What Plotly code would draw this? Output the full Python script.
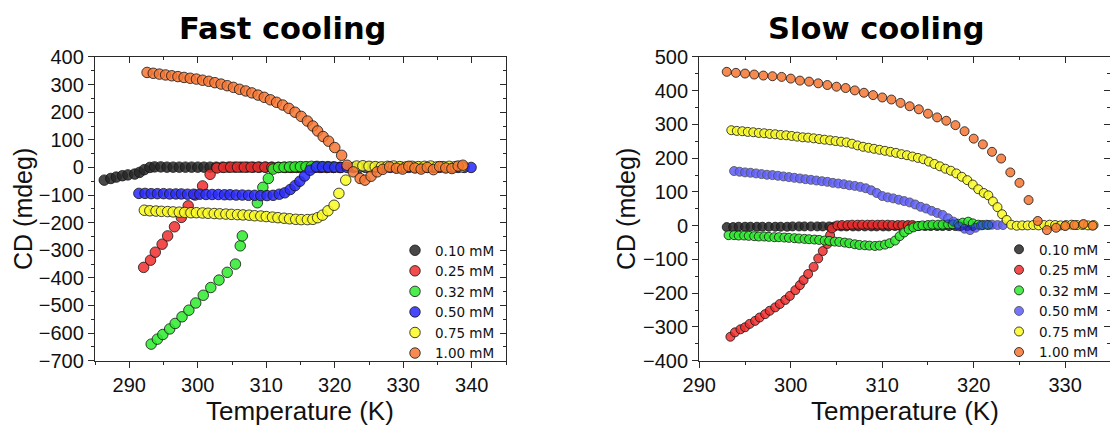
import plotly.graph_objects as go

W, H = 1110, 425

LABELS = ["0.10 mM", "0.25 mM", "0.32 mM", "0.50 mM", "0.75 mM", "1.00 mM"]
COLORS = ["rgba(40,40,40,0.85)", "rgba(240,45,45,0.85)", "rgba(45,235,45,0.85)",
          "rgba(45,45,250,0.88)", "rgba(250,250,35,0.85)", "rgba(246,118,50,0.85)"]

# ---------------- Fast cooling ----------------
fast_T_010 = [286.35, 287.3, 288.1, 289.0, 289.8, 290.8, 291.5, 292.2, 293.0, 293.7, 294.6, 295.5, 296.4,
              297.3, 298.2, 299.1, 300.0, 300.9, 301.8, 302.7, 303.6, 304.5, 305.4, 306.3, 307.2, 308.1,
              309.0, 309.9, 310.8, 311.7, 312.6, 313.5, 314.4, 315.3, 316.2, 317.1, 318.0, 318.9, 319.8, 320.7]
fast_CD_010 = [-46, -40, -35, -30, -27, -24, -18, -8, 0, 2, 2, 1, 1, 1, 1, 1, 1, 1, 1, 1, 1, 1, 1, 1, 1, 1,
               1, 1, 1, 0, 0, 0, 0, 0, 0, 0, 0, 0, 0, 0]

fast_T_025 = [292.1, 293.1, 293.8, 294.8, 295.6, 296.6, 297.6, 298.6, 299.6, 300.7, 301.8, 302.8, 303.8,
              304.8, 305.8, 306.8, 307.8, 308.8, 309.8, 310.8, 311.8, 312.8, 313.8, 314.8, 315.8, 316.8,
              317.8, 318.8, 319.8, 320.8]
fast_CD_025 = [-362, -336, -307, -278, -248, -215, -181, -139, -100, -67, -25, -2, 0, 1, 1, 1, 1, 1, 1, 0,
               0, 0, 0, 0, 0, 0, 0, 0, 0, 0]

fast_T_032 = [293.2, 294.1, 294.9, 295.9, 296.7, 297.7, 298.7, 299.7, 300.8, 301.9, 303.1, 304.3, 305.5,
              306.2, 306.5, 308.7, 309.5, 310.3, 311.0, 311.8, 312.6, 313.4, 314.2, 315.0, 315.8, 316.6,
              317.4, 318.2, 319.0, 319.8]
fast_CD_032 = [-640, -622, -605, -585, -565, -541, -517, -491, -463, -435, -408, -380, -350, -284, -248,
               -128, -72, -40, -6, 0, 1, 2, 2, 3, 3, 4, 4, 3, 3, 2]

fast_T_050 = [291.4, 292.3, 293.2, 294.1, 295.0, 295.9, 296.8, 297.6, 298.5, 299.4, 300.3, 301.2, 302.1,
              303.0, 303.9, 304.7, 305.6, 306.5, 307.4, 308.3, 309.2, 310.1, 311.0, 311.9, 312.7, 313.5,
              314.2, 314.9, 315.6, 316.4, 317.3, 318.2, 319.1, 320.0, 320.9, 321.8, 322.7, 323.6, 324.5,
              325.4, 326.3, 327.2, 328.1, 329.0, 329.9, 330.8, 331.7, 332.6, 333.5, 334.4, 335.3, 336.2,
              337.1, 338.0, 338.9, 339.9]
fast_CD_050 = [-94, -94, -95, -95, -95, -96, -96, -96, -97, -97, -97, -98, -98, -98, -99, -99, -100, -100,
               -101, -101, -102, -102, -101, -97, -92, -80, -66, -50, -31, -10, 2, 2, 1, 1, 0, 0, 0, 0, 0,
               0, 0, 0, 0, 0, 0, 0, 0, 0, 0, 0, 0, 0, 0, 0, 0, 0]

fast_T_075 = [292.2, 293.0, 293.9, 294.7, 295.6, 296.4, 297.3, 298.1, 299.0, 299.8, 300.7, 301.5, 302.4,
              303.2, 304.1, 304.9, 305.8, 306.6, 307.5, 308.3, 309.2, 310.0, 310.9, 311.7, 312.6, 313.4,
              314.3, 315.1, 316.0, 316.8, 317.5, 318.2, 319.0, 319.9, 320.6, 321.6, 323.2, 324.1, 325.0,
              325.9, 326.8, 327.7, 328.6, 329.5, 330.4, 331.3, 332.2, 333.1, 334.0, 334.9, 335.8, 336.7,
              337.6, 338.6]
fast_CD_075 = [-155, -157, -158, -159, -160, -161, -162, -163, -164, -164, -165, -166, -167, -168, -169,
               -170, -171, -172, -173, -175, -176, -178, -180, -182, -184, -186, -188, -189, -189, -188,
               -182, -173, -157, -137, -94, -46, 5, 6, 4, 3, 2, 4, 5, 3, 2, 4, 3, 4, 5, 2, 3, 4, 3, 2]

fast_T_100 = [292.6, 293.5, 294.4, 295.3, 296.2, 297.1, 298.0, 298.9, 299.8, 300.7, 301.6, 302.5, 303.4,
              304.3, 305.2, 306.1, 307.0, 307.9, 308.8, 309.7, 310.6, 311.5, 312.4, 313.3, 314.2, 315.1,
              316.0, 316.8, 317.5, 318.3, 319.1, 320.0, 321.0, 321.8, 322.7, 323.7, 324.4, 325.3, 326.2,
              327.0, 328.0, 329.0, 329.9, 330.8, 331.7, 332.6, 333.5, 334.4, 335.3, 336.2, 337.1, 338.0,
              338.7]
fast_CD_100 = [344, 341, 338, 335, 332, 329, 326, 323, 320, 316, 312, 307, 302, 296, 290, 283, 277, 270,
               262, 254, 245, 236, 226, 214, 200, 185, 168, 150, 132, 112, 95, 72, 44, 8, -16, -40, -46,
               -32, -16, -7, 2, -3, -6, 4, -2, -6, 0, -8, 3, -2, -4, 5, 8]

# ---------------- Slow cooling ----------------
slow_T_010 = [293.0, 293.7, 294.3, 295.0, 295.6, 296.3, 296.9, 297.6, 298.3, 298.9, 299.6, 300.2, 300.9,
              301.5, 302.2, 302.9, 303.5, 304.2, 304.8, 305.5, 306.1, 306.8, 307.4, 308.1, 308.8, 309.4,
              310.1, 310.7, 311.4, 312.0, 312.7, 313.4, 314.0, 314.7, 315.3, 316.0, 316.6, 317.3, 318.0,
              318.6, 319.3, 319.9]
slow_CD_010 = [-4, -4, -3, -3, -3, -3, -3, -3, -3, -3, -3, -2, -2, -2, -2, -2, -2, -2, -2, -2, -2, -2, -2,
               -2, -2, -2, -2, -2, -1, -1, -1, -1, -1, -1, -1, -1, -1, -1, -1, -1, -1, -1]

slow_T_025 = [293.4, 293.9, 294.5, 295.0, 295.5, 296.1, 296.6, 297.2, 297.7, 298.3, 298.8, 299.4, 299.9,
              300.5, 301.0, 301.4, 301.9, 302.5, 303.0, 303.5, 304.0, 304.3, 304.5, 305.1, 305.6, 306.2,
              306.7, 307.3, 307.8, 308.4, 308.9, 309.5, 310.0, 310.6, 311.1, 311.7, 312.2, 312.8, 313.3]
slow_CD_025 = [-329, -316, -307, -301, -291, -282, -272, -262, -252, -242, -232, -220, -208, -191, -176,
               -161, -143, -122, -97, -75, -54, -28, -8, 1, 2, 2, 3, 3, 3, 3, 3, 3, 3, 3, 2, 2, 2, 2, 2]

slow_T_032 = [293.2, 293.8, 294.3, 294.9, 295.4, 296.0, 296.5, 297.1, 297.6, 298.2, 298.7, 299.3, 299.8,
              300.4, 300.9, 301.5, 302.0, 302.6, 303.1, 303.7, 304.2, 304.8, 305.3, 305.9, 306.4, 307.0,
              307.5, 308.1, 308.6, 309.2, 309.7, 310.3, 310.8, 311.4, 311.9, 312.4, 312.9, 313.4, 313.9,
              314.4, 315.0, 315.5, 316.1, 316.6, 317.2, 317.7, 318.3, 318.8, 319.4, 319.9, 320.5, 321.0,
              321.6]
slow_CD_032 = [-28, -28, -29, -29, -30, -31, -32, -32, -33, -34, -34, -35, -36, -37, -38, -39, -40, -41,
               -42, -44, -45, -47, -48, -50, -52, -55, -57, -58, -59, -60, -59, -56, -52, -44, -31, -20,
               -11, -5, -1, 1, 2, 3, 3, 3, 4, 4, 6, 9, 12, 7, 3, 2, 2]

slow_T_050 = [293.8, 294.4, 295.0, 295.6, 296.2, 296.8, 297.4, 298.0, 298.6, 299.2, 299.8, 300.4, 301.0,
              301.6, 302.2, 302.8, 303.4, 304.0, 304.6, 305.2, 305.8, 306.4, 307.0, 307.6, 308.2, 308.8,
              309.4, 310.0, 310.6, 311.2, 311.8, 312.4, 313.0, 313.6, 314.2, 314.8, 315.4, 316.0, 316.6,
              317.2, 317.8, 318.4, 319.0, 319.6, 320.2, 320.8, 321.4, 322.0, 322.6, 323.2]
slow_CD_050 = [162, 160, 158, 157, 155, 153, 151, 150, 148, 146, 144, 142, 140, 138, 136, 134, 132, 130,
               127, 125, 123, 120, 118, 115, 111, 105, 97, 88, 84, 81, 77, 73, 69, 63, 56, 51, 44, 38, 32,
               22, 12, -2, -9, -13, -6, 1, 3, 3, 2, 2]

slow_T_075 = [293.5, 294.1, 294.7, 295.3, 295.9, 296.5, 297.1, 297.7, 298.3, 298.9, 299.5, 300.1, 300.7,
              301.3, 301.9, 302.5, 303.1, 303.7, 304.3, 304.9, 305.5, 306.1, 306.7, 307.3, 307.9, 308.5,
              309.1, 309.7, 310.3, 310.9, 311.5, 312.1, 312.7, 313.3, 313.9, 314.5, 315.1, 315.7, 316.3,
              316.9, 317.5, 318.1, 318.7, 319.3, 319.9, 320.5, 321.1, 321.6, 322.1, 322.6, 323.1, 323.6,
              324.1, 324.7, 325.3, 325.9, 326.5, 327.1, 327.7, 328.3, 328.9, 329.5, 330.1, 330.7, 331.3,
              331.9, 332.5, 333.1]
slow_CD_075 = [283, 281, 280, 278, 277, 275, 274, 272, 271, 269, 268, 266, 264, 262, 261, 259, 257, 255,
               253, 251, 249, 247, 243, 238, 234, 231, 228, 225, 222, 219, 216, 212, 209, 205, 201, 197,
               190, 183, 176, 169, 163, 155, 145, 135, 122, 108, 97, 90, 72, 55, 34, 17, 3, 0, 1, 1, 2, 1,
               2, 3, 2, 1, 2, 3, 2, 2, 1, 2]

slow_T_100 = [293, 294, 295, 296, 297, 298, 299, 300, 301, 302, 303, 304, 305, 306, 307, 308, 309, 310,
              311, 312, 313, 314, 315, 316, 317, 318, 319, 320, 321, 322, 323, 324, 325, 326, 327, 328,
              329, 330, 331, 332, 333]
slow_CD_100 = [456, 453, 451, 448, 445, 443, 441, 436, 430, 427, 422, 417, 412, 408, 401, 394, 387, 380,
               374, 364, 354, 345, 332, 321, 311, 298, 280, 258, 241, 219, 199, 158, 127, 76, 14, -13, -6,
               -1, 2, 5, 0]

fast_T = [fast_T_010, fast_T_025, fast_T_032, fast_T_050, fast_T_075, fast_T_100]
fast_CD = [fast_CD_010, fast_CD_025, fast_CD_032, fast_CD_050, fast_CD_075, fast_CD_100]
slow_T = [slow_T_010, slow_T_025, slow_T_032, slow_T_050, slow_T_075, slow_T_100]
slow_CD = [slow_CD_010, slow_CD_025, slow_CD_032, slow_CD_050, slow_CD_075, slow_CD_100]
for a, b in list(zip(fast_T, fast_CD)) + list(zip(slow_T, slow_CD)):
    assert len(a) == len(b), (len(a), len(b))

FONT = "Liberation Sans, Arial, sans-serif"
LFONT = "DejaVu Sans, sans-serif"
LINE = "#2a2a2a"

fig = go.Figure()
for i in range(6):
    fig.add_trace(go.Scatter(
        x=fast_T[i], y=fast_CD[i], mode="markers", name=LABELS[i],
        xaxis="x", yaxis="y", legend="legend",
        marker=dict(size=10.5, color=COLORS[i], line=dict(color="rgba(20,20,20,0.8)", width=1))))
for i in range(6):
    op = 0.75 if i == 3 else 1.0
    fig.add_trace(go.Scatter(
        x=slow_T[i], y=slow_CD[i], mode="markers", name=LABELS[i],
        xaxis="x2", yaxis="y2", legend="legend2", opacity=op,
        marker=dict(size=9, color=COLORS[i], line=dict(color="rgba(20,20,20,0.8)", width=1))))

# empty helper traces so that the mirrored (inward-tick) axes are drawn
for xa, ya in [("x3", "y"), ("x", "y3"), ("x4", "y2"), ("x2", "y4")]:
    fig.add_trace(go.Scatter(x=[None], y=[None], xaxis=xa, yaxis=ya, showlegend=False,
                             hoverinfo="skip", mode="markers"))

YDOM = [0.1513, 0.8659]
XDOM1 = [0.0856, 0.4559]
XDOM2 = [0.6300, 1.0]
XR1 = [285, 345]
XR2 = [290, 334.9]
YR1 = [-700, 400]
YR2 = [-400, 500]


def main_axis(rng, dtick, minor_dt, dom=None, anchor=None):
    d = dict(range=rng, dtick=dtick, tick0=0, ticks="outside", ticklen=6, tickwidth=1.3,
             tickcolor=LINE, showline=True, linecolor=LINE, linewidth=1.4, showgrid=False,
             zeroline=False, tickfont=dict(family=FONT, size=20, color="#111"),
             automargin=False,
             minor=dict(dtick=minor_dt, ticks="outside", ticklen=3, tickwidth=1.1, tickcolor=LINE,
                        showgrid=False),
             fixedrange=True)
    if dom is not None:
        d["domain"] = dom
    if anchor is not None:
        d["anchor"] = anchor
    return d


def mirror_axis(rng, dtick, minor_dt, over, side, anchor):
    return dict(range=rng, dtick=dtick, tick0=0, ticks="inside", ticklen=6, tickwidth=1.3,
                tickcolor=LINE, showline=True, linecolor=LINE, linewidth=1.4, showgrid=False,
                zeroline=False, showticklabels=False, overlaying=over, side=side, anchor=anchor,
                automargin=False,
                minor=dict(dtick=minor_dt, ticks="inside", ticklen=3, tickwidth=1.1, tickcolor=LINE,
                           showgrid=False),
                fixedrange=True)


fig.update_layout(
    width=W, height=H, margin=dict(l=0, r=0, t=0, b=0, pad=0, autoexpand=False),
    paper_bgcolor="white", plot_bgcolor="white",
    xaxis=main_axis(XR1, 10, 5, XDOM1, "y"),
    yaxis=main_axis(YR1, 100, 50, YDOM, "x"),
    xaxis2=main_axis(XR2, 10, 5, XDOM2, "y2"),
    yaxis2=main_axis(YR2, 100, 50, YDOM, "x2"),
    xaxis3=mirror_axis(XR1, 10, 5, "x", "top", "y"),
    yaxis3=mirror_axis(YR1, 100, 50, "y", "right", "x"),
    xaxis4=mirror_axis(XR2, 10, 5, "x2", "top", "y2"),
    yaxis4=mirror_axis(YR2, 100, 50, "y2", "right", "x2"),
    legend=dict(x=395 / W, y=1 - 235 / H, xanchor="left", yanchor="top",
                bgcolor="rgba(0,0,0,0)", font=dict(family=LFONT, size=13.5, color="#111"),
                tracegroupgap=0, itemclick=False, itemdoubleclick=False),
    legend2=dict(x=999 / W, y=1 - 234 / H, xanchor="left", yanchor="top",
                 bgcolor="rgba(0,0,0,0)", font=dict(family=LFONT, size=13.5, color="#111"),
                 tracegroupgap=0, itemclick=False, itemdoubleclick=False),
    showlegend=True,
)

TFONT = "DejaVu Sans, sans-serif"
ann = [
    dict(text="<b>Fast cooling</b>", x=282 / W, y=1 - 28 / H,
         font=dict(family=TFONT, size=30.5, color="black")),
    dict(text="<b>Slow cooling</b>", x=876 / W, y=1 - 28 / H,
         font=dict(family=TFONT, size=30.5, color="black")),
    dict(text="CD (mdeg)", x=23 / W, y=1 - 209 / H, textangle=-90,
         font=dict(family=FONT, size=25, color="#111")),
    dict(text="CD (mdeg)", x=626 / W, y=1 - 209 / H, textangle=-90,
         font=dict(family=FONT, size=25, color="#111")),
    dict(text="Temperature (K)", x=300 / W, y=1 - 411 / H,
         font=dict(family=FONT, size=26, color="#111")),
    dict(text="Temperature (K)", x=905 / W, y=1 - 411 / H,
         font=dict(family=FONT, size=26, color="#111")),
]
for a in ann:
    a.update(xref="paper", yref="paper", xanchor="center", yanchor="middle", showarrow=False)
fig.update_layout(annotations=ann)

fig.write_html("out.html", config={"displayModeBar": False},
               post_script="document.body.style.margin='0px';")
